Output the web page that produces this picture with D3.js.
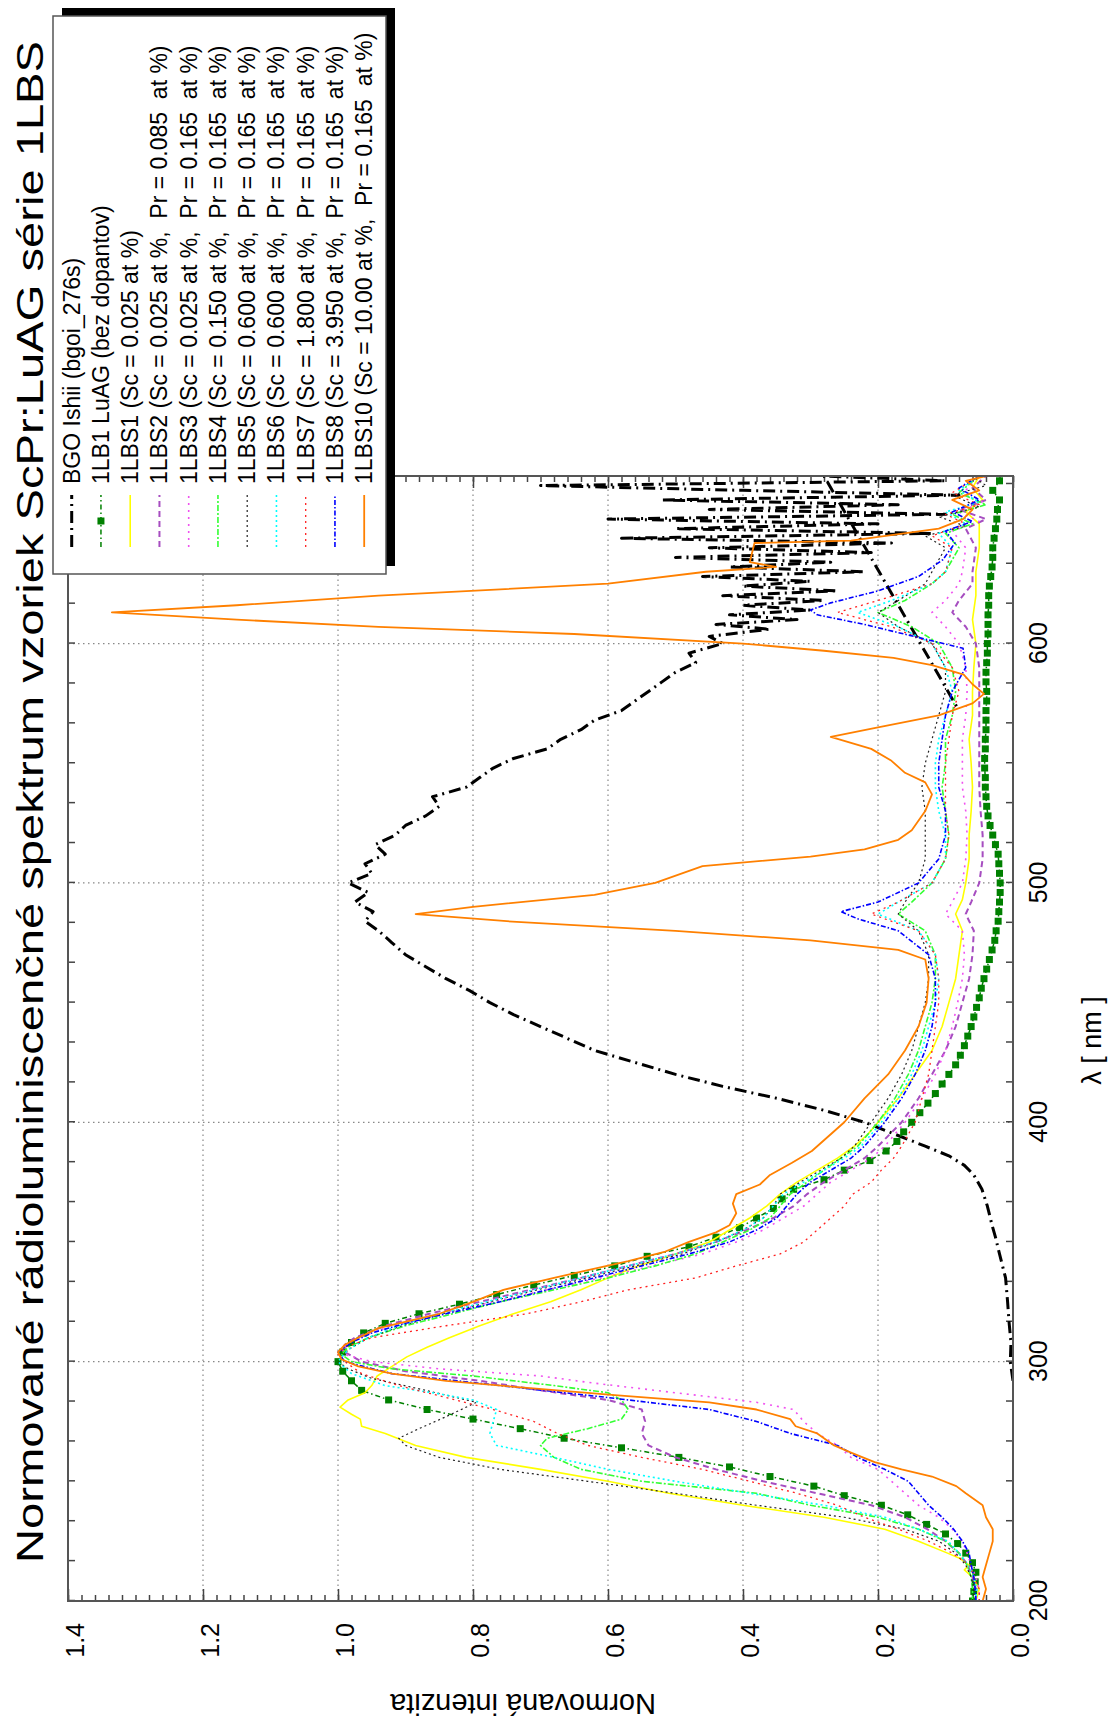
<!DOCTYPE html>
<html><head><meta charset="utf-8">
<script src="https://cdn.jsdelivr.net/npm/d3@7"></script>
<style>
body{margin:0;background:#fff}
svg{display:block}
text{font-family:"Liberation Sans",Arial,sans-serif;fill:#000}
</style>
</head><body>
<svg id="c" width="1110" height="1720"></svg>
<script>
// ---------------- DATA ----------------
const titleText = "Normované rádioluminiscenčné spektrum vzoriek ScPr:LuAG série 1LBS";
const xLabel = "λ [ nm ]";
const yLabel = "Normovaná intenzita";
const wavelengthTickLabels = [200, 300, 400, 500, 600];
const valueTickLabels = [0.0, 0.2, 0.4, 0.6, 0.8, 1.0, 1.2, 1.4];
const seriesNames = [
  "BGO Ishii (bgoi_276s)",
  "1LB1 LuAG (bez dopantov)",
  "1LBS1 (Sc = 0.025 at %)",
  "1LBS2 (Sc = 0.025 at %,  Pr = 0.085  at %)",
  "1LBS3 (Sc = 0.025 at %,  Pr = 0.165  at %)",
  "1LBS4 (Sc = 0.150 at %,  Pr = 0.165  at %)",
  "1LBS5 (Sc = 0.600 at %,  Pr = 0.165  at %)",
  "1LBS6 (Sc = 0.600 at %,  Pr = 0.165  at %)",
  "1LBS7 (Sc = 1.800 at %,  Pr = 0.165  at %)",
  "1LBS8 (Sc = 3.950 at %,  Pr = 0.165  at %)",
  "1LBS10 (Sc = 10.00 at %,  Pr = 0.165  at %)"
];

const bgo = [[292,0.0],[300,0.004],[308,0.003],[317,0.006],[325,0.008],[335,0.011],[345,0.02],[352,0.026],[357,0.031],[365,0.038],[372,0.046],[378,0.058],[382,0.072],[386,0.095],[390,0.13],[395,0.175],[400,0.22],[405,0.28],[410,0.35],[415,0.43],[420,0.5],[425,0.56],[430,0.62],[435,0.66],[440,0.7],[445,0.74],[450,0.775],[455,0.805],[460,0.84],[465,0.87],[470,0.9],[475,0.92],[480,0.94],[484,0.96],[488,0.948],[492,0.975],[496,0.955],[500,0.985],[504,0.95],[508,0.96],[512,0.93],[516,0.945],[520,0.915],[524,0.9],[528,0.87],[532,0.85],[536,0.86],[540,0.81],[544,0.79],[548,0.77],[552,0.74],[556,0.69],[560,0.67],[564,0.64],[568,0.62],[572,0.58],[576,0.56],[580,0.54],[584,0.52],[588,0.5],[592,0.47],[596,0.48],[600,0.43],[603,0.45],[606,0.36],[608,0.44],[610,0.32],[612,0.42],[614,0.3],[616,0.4],[618,0.28],[620,0.43],[622,0.26],[624,0.4],[626,0.3],[628,0.46],[630,0.22],[632,0.42],[634,0.27],[636,0.5],[638,0.21],[640,0.45],[642,0.18],[644,0.58],[646,0.12],[648,0.5],[650,0.2],[652,0.6],[654,0.1],[656,0.45],[658,0.17],[660,0.52],[662,0.08],[664,0.4],[666,0.7],[668,0.1],[670,0.28],[572,0.08]];

const lb1 = [[200,0.06],[204,0.058],[208,0.056],[212,0.055],[216,0.06],[220,0.07],[224,0.082],[228,0.1],[232,0.128],[236,0.156],[240,0.195],[244,0.25],[248,0.295],[252,0.36],[256,0.42],[260,0.495],[264,0.58],[268,0.665],[272,0.73],[276,0.8],[280,0.868],[284,0.925],[288,0.965],[292,0.98],[296,0.993],[300,1.0],[304,0.993],[308,0.98],[312,0.962],[316,0.93],[320,0.88],[324,0.82],[328,0.765],[332,0.71],[336,0.65],[340,0.59],[344,0.542],[348,0.48],[352,0.44],[356,0.405],[360,0.38],[364,0.355],[368,0.342],[372,0.325],[376,0.28],[380,0.25],[384,0.212],[388,0.188],[392,0.172],[396,0.162],[400,0.15],[404,0.138],[408,0.126],[412,0.115],[416,0.105],[420,0.095],[424,0.085],[428,0.078],[432,0.072],[436,0.067],[440,0.062],[444,0.058],[448,0.054],[452,0.05],[456,0.047],[460,0.043],[464,0.039],[468,0.035],[472,0.031],[476,0.027],[480,0.025],[484,0.022],[488,0.021],[492,0.02],[496,0.019],[500,0.019],[504,0.02],[508,0.021],[512,0.022],[516,0.026],[520,0.03],[524,0.034],[528,0.037],[532,0.039],[536,0.04],[540,0.041],[544,0.041],[548,0.042],[552,0.042],[556,0.041],[560,0.041],[564,0.04],[568,0.04],[572,0.04],[576,0.039],[580,0.039],[584,0.04],[588,0.04],[592,0.039],[596,0.038],[600,0.038],[604,0.037],[608,0.037],[612,0.037],[616,0.036],[620,0.036],[624,0.035],[628,0.033],[632,0.031],[636,0.03],[640,0.03],[644,0.028],[648,0.026],[652,0.024],[656,0.023],[660,0.02],[664,0.03],[668,0.02]];

const lbs1 = [[200,0.055],[205,0.05],[210,0.06],[213,0.072],[215,0.065],[218,0.08],[220,0.097],[225,0.14],[230,0.19],[235,0.28],[240,0.4],[245,0.51],[250,0.6],[255,0.7],[260,0.81],[265,0.885],[270,0.93],[273,0.965],[276,0.967],[278,0.98],[281,0.997],[284,0.985],[287,0.96],[290,0.95],[294,0.942],[298,0.92],[302,0.898],[306,0.868],[310,0.835],[315,0.79],[320,0.74],[325,0.685],[330,0.64],[335,0.6],[340,0.555],[345,0.5],[350,0.45],[355,0.42],[360,0.39],[365,0.365],[370,0.345],[375,0.32],[380,0.29],[385,0.26],[390,0.235],[395,0.215],[400,0.2],[410,0.17],[420,0.145],[430,0.12],[440,0.105],[450,0.095],[460,0.085],[470,0.08],[480,0.075],[487,0.085],[493,0.075],[500,0.07],[510,0.065],[520,0.065],[530,0.062],[540,0.06],[550,0.062],[560,0.065],[570,0.06],[580,0.06],[590,0.058],[600,0.055],[610,0.06],[620,0.055],[630,0.055],[640,0.05],[650,0.05],[655,0.07],[660,0.045],[665,0.06],[670,0.05]];

const lbs2 = [[200,0.055],[205,0.055],[210,0.06],[215,0.067],[220,0.08],[225,0.1],[230,0.127],[235,0.16],[240,0.21],[245,0.29],[250,0.37],[255,0.44],[260,0.5],[265,0.54],[270,0.55],[275,0.545],[280,0.55],[284,0.6],[288,0.7],[292,0.79],[296,0.9],[300,0.965],[304,0.99],[307,0.99],[310,0.975],[315,0.93],[320,0.865],[325,0.79],[330,0.715],[335,0.64],[340,0.57],[345,0.5],[350,0.44],[355,0.395],[360,0.355],[365,0.325],[370,0.305],[375,0.28],[380,0.25],[385,0.22],[390,0.2],[400,0.165],[410,0.14],[420,0.12],[430,0.1],[440,0.085],[450,0.075],[460,0.065],[470,0.06],[480,0.058],[487,0.07],[492,0.062],[500,0.05],[510,0.045],[520,0.045],[530,0.048],[540,0.05],[550,0.05],[560,0.05],[570,0.05],[580,0.05],[590,0.05],[600,0.055],[607,0.07],[613,0.09],[618,0.08],[625,0.06],[630,0.06],[640,0.055],[648,0.07],[652,0.04],[656,0.08],[660,0.04],[665,0.06],[670,0.04]];

const lbs3 = [[200,0.05],[205,0.05],[210,0.055],[215,0.062],[220,0.068],[225,0.075],[230,0.09],[235,0.11],[240,0.14],[245,0.16],[250,0.18],[255,0.2],[260,0.24],[265,0.26],[270,0.29],[275,0.31],[280,0.325],[283,0.38],[287,0.5],[291,0.62],[294,0.7],[297,0.85],[300,0.95],[303,0.99],[306,0.995],[310,0.97],[315,0.92],[320,0.85],[325,0.77],[330,0.69],[335,0.61],[340,0.535],[345,0.46],[350,0.41],[355,0.37],[360,0.34],[365,0.31],[370,0.29],[375,0.27],[380,0.24],[385,0.21],[390,0.19],[400,0.16],[410,0.135],[420,0.115],[430,0.1],[440,0.09],[450,0.082],[460,0.075],[470,0.072],[480,0.075],[487,0.1],[492,0.09],[500,0.075],[510,0.07],[520,0.068],[530,0.07],[540,0.075],[550,0.075],[560,0.075],[570,0.07],[580,0.068],[590,0.07],[600,0.08],[607,0.1],[613,0.12],[618,0.1],[625,0.08],[630,0.075],[640,0.07],[647,0.09],[651,0.05],[655,0.08],[659,0.045],[664,0.07],[670,0.05]];

const lbs4 = [[200,0.06],[205,0.06],[210,0.062],[215,0.068],[220,0.08],[225,0.1],[230,0.14],[235,0.2],[240,0.3],[245,0.38],[250,0.55],[255,0.64],[260,0.68],[265,0.7],[268,0.69],[272,0.63],[276,0.58],[280,0.57],[284,0.58],[287,0.6],[290,0.68],[294,0.8],[297,0.92],[300,0.98],[303,0.995],[306,0.985],[310,0.955],[315,0.9],[320,0.83],[325,0.76],[330,0.68],[335,0.6],[340,0.53],[345,0.47],[350,0.43],[355,0.39],[360,0.36],[365,0.345],[370,0.33],[375,0.305],[380,0.28],[385,0.255],[390,0.23],[400,0.2],[410,0.175],[420,0.155],[430,0.14],[440,0.13],[450,0.12],[460,0.115],[470,0.115],[480,0.13],[487,0.17],[492,0.15],[500,0.12],[510,0.1],[520,0.095],[530,0.1],[540,0.105],[550,0.1],[560,0.1],[570,0.09],[580,0.085],[590,0.09],[600,0.11],[607,0.15],[613,0.2],[618,0.16],[625,0.12],[630,0.1],[640,0.08],[646,0.1],[650,0.06],[654,0.09],[658,0.04],[663,0.08],[670,0.05]];

const lbs5 = [[200,0.06],[205,0.058],[210,0.062],[215,0.07],[220,0.085],[225,0.11],[230,0.16],[235,0.25],[240,0.38],[245,0.5],[250,0.63],[255,0.76],[260,0.85],[265,0.9],[268,0.91],[272,0.88],[277,0.84],[283,0.795],[288,0.87],[293,0.95],[297,0.985],[300,1.0],[305,0.985],[310,0.955],[315,0.905],[320,0.845],[325,0.775],[330,0.705],[335,0.63],[340,0.56],[345,0.49],[350,0.44],[355,0.4],[360,0.37],[365,0.355],[370,0.345],[375,0.315],[380,0.285],[385,0.255],[390,0.235],[400,0.21],[410,0.185],[420,0.165],[430,0.15],[440,0.14],[450,0.13],[460,0.125],[470,0.125],[480,0.14],[487,0.17],[492,0.16],[500,0.14],[510,0.13],[520,0.13],[530,0.13],[540,0.135],[550,0.13],[560,0.12],[570,0.11],[580,0.1],[590,0.1],[600,0.12],[607,0.17],[613,0.2],[618,0.17],[625,0.13],[630,0.12],[640,0.1],[645,0.13],[649,0.07],[653,0.11],[657,0.05],[662,0.09],[666,0.04],[670,0.06]];

const lbs6 = [[200,0.055],[205,0.054],[210,0.058],[215,0.066],[220,0.08],[225,0.096],[230,0.14],[235,0.19],[240,0.28],[245,0.39],[250,0.5],[255,0.6],[260,0.68],[265,0.765],[270,0.775],[275,0.77],[280,0.765],[284,0.8],[287,0.86],[290,0.93],[295,0.98],[300,1.0],[305,0.985],[310,0.955],[315,0.91],[320,0.85],[325,0.78],[330,0.71],[335,0.64],[340,0.57],[345,0.5],[350,0.44],[355,0.4],[360,0.37],[365,0.355],[370,0.34],[375,0.31],[380,0.28],[385,0.25],[390,0.225],[400,0.195],[410,0.17],[420,0.15],[430,0.135],[440,0.125],[450,0.115],[460,0.11],[470,0.115],[480,0.14],[487,0.2],[492,0.17],[500,0.12],[510,0.1],[520,0.1],[530,0.11],[540,0.115],[550,0.115],[560,0.11],[570,0.1],[580,0.09],[590,0.1],[600,0.12],[607,0.17],[613,0.23],[618,0.18],[625,0.12],[630,0.1],[640,0.09],[646,0.11],[650,0.07],[655,0.1],[659,0.05],[664,0.08],[670,0.05]];

const lbs7 = [[200,0.05],[205,0.05],[210,0.058],[215,0.064],[220,0.09],[225,0.125],[230,0.17],[235,0.22],[240,0.26],[245,0.32],[250,0.39],[255,0.46],[260,0.55],[265,0.63],[270,0.675],[275,0.71],[280,0.77],[285,0.84],[290,0.91],[295,0.965],[300,0.99],[303,1.0],[306,0.99],[310,0.95],[315,0.84],[320,0.72],[325,0.64],[330,0.57],[335,0.47],[340,0.41],[345,0.345],[350,0.31],[355,0.29],[360,0.27],[365,0.25],[370,0.237],[375,0.21],[380,0.195],[385,0.177],[390,0.165],[400,0.145],[410,0.135],[420,0.125],[430,0.12],[440,0.115],[450,0.11],[460,0.11],[470,0.115],[480,0.14],[487,0.21],[492,0.17],[500,0.12],[510,0.1],[520,0.095],[530,0.1],[540,0.1],[550,0.1],[560,0.095],[570,0.09],[580,0.08],[590,0.09],[600,0.12],[607,0.18],[613,0.26],[618,0.2],[625,0.12],[630,0.1],[640,0.09],[645,0.12],[650,0.07],[654,0.1],[658,0.05],[663,0.09],[670,0.05]];

const lbs8 = [[200,0.055],[205,0.056],[210,0.058],[215,0.062],[220,0.065],[225,0.075],[230,0.088],[235,0.105],[240,0.125],[245,0.14],[250,0.155],[255,0.19],[260,0.23],[265,0.26],[270,0.33],[275,0.38],[280,0.45],[285,0.6],[290,0.76],[295,0.92],[300,0.99],[304,1.0],[308,0.98],[312,0.95],[316,0.9],[320,0.84],[325,0.76],[330,0.69],[335,0.62],[340,0.55],[345,0.48],[350,0.42],[355,0.38],[360,0.35],[365,0.335],[370,0.32],[375,0.3],[380,0.27],[385,0.24],[390,0.22],[400,0.19],[410,0.165],[420,0.145],[430,0.13],[440,0.12],[450,0.115],[460,0.115],[470,0.125],[480,0.17],[485,0.23],[488,0.255],[492,0.2],[500,0.14],[510,0.11],[520,0.1],[530,0.1],[540,0.11],[550,0.11],[560,0.105],[570,0.1],[580,0.09],[590,0.07],[598,0.074],[603,0.147],[608,0.22],[612,0.29],[614,0.3],[617,0.27],[622,0.2],[628,0.14],[635,0.104],[642,0.086],[647,0.1],[651,0.06],[655,0.09],[660,0.05],[665,0.08],[670,0.05]];

const lbs10 = [[200,0.045],[205,0.04],[210,0.045],[215,0.04],[220,0.035],[225,0.03],[230,0.03],[235,0.04],[240,0.045],[245,0.07],[248,0.084],[252,0.12],[255,0.165],[258,0.205],[262,0.24],[265,0.265],[270,0.29],[273,0.322],[276,0.33],[280,0.38],[283,0.45],[286,0.59],[289,0.72],[292,0.84],[295,0.92],[298,0.97],[301,0.995],[304,1.0],[307,0.99],[310,0.97],[314,0.94],[320,0.85],[325,0.8],[330,0.755],[335,0.68],[338,0.633],[342,0.57],[346,0.515],[350,0.48],[354,0.44],[357,0.42],[362,0.41],[366,0.415],[370,0.41],[374,0.375],[378,0.36],[383,0.328],[388,0.298],[395,0.27],[400,0.25],[410,0.22],[420,0.185],[430,0.16],[440,0.14],[450,0.128],[460,0.125],[468,0.13],[472,0.17],[476,0.3],[480,0.5],[484,0.75],[487,0.885],[490,0.8],[495,0.62],[500,0.53],[507,0.46],[511,0.3],[514,0.22],[518,0.17],[522,0.15],[530,0.13],[537,0.12],[542,0.13],[546,0.16],[551,0.18],[556,0.21],[561,0.27],[565,0.2],[570,0.11],[575,0.06],[579,0.043],[583,0.06],[587,0.073],[591,0.12],[594,0.177],[597,0.28],[600,0.4],[604,0.65],[607,0.94],[610,1.15],[613,1.335],[616,1.15],[620,0.94],[625,0.6],[630,0.455],[632,0.351],[634,0.39],[642,0.383],[643,0.24],[648,0.11],[652,0.074],[656,0.06],[660,0.09],[664,0.05],[668,0.07],[670,0.04]];

const seriesData = [bgo, lb1, lbs1, lbs2, lbs3, lbs4, lbs5, lbs6, lbs7, lbs8, lbs10];

// ---------------- STYLES ----------------
const styles = [
  {color:"#000000", width:3,   dash:"12,5,2,5"},
  {color:"#008000", width:1.5, dash:"5,3,1.5,3", marker:true},
  {color:"#ffff00", width:1.6, dash:null},
  {color:"#a64dc0", width:2,   dash:"6,4"},
  {color:"#f050f0", width:1.6, dash:"2,5"},
  {color:"#33ff33", width:1.6, dash:"6,2,2,2"},
  {color:"#222222", width:1.2, dash:"2,3"},
  {color:"#00ffff", width:1.6, dash:"2,3"},
  {color:"#ff2020", width:1.3, dash:"2,4"},
  {color:"#0000ff", width:1.6, dash:"5,2,1.5,2"},
  {color:"#ff8000", width:1.8, dash:null}
];

// ---------------- LAYOUT (unrotated frame 1720 x 1110) ----------------
const svg = d3.select("#c");
const root = svg.append("g").attr("transform","translate(0,1720) rotate(-90)");
const P = {left:119, right:1244, top:68, bottom:1013};
const x = d3.scaleLinear().domain([200,670]).range([P.left,P.right]);
const y = d3.scaleLinear().domain([0,1.4]).range([P.bottom,P.top]);

root.append("defs").append("clipPath").attr("id","clip")
  .append("rect").attr("x",P.left).attr("y",P.top)
  .attr("width",P.right-P.left).attr("height",P.bottom-P.top);

// grid
const grid = root.append("g").attr("stroke","#888").attr("stroke-width",1.2).attr("stroke-dasharray","1.5,3.5");
[0.2,0.4,0.6,0.8,1.0,1.2].forEach(v=>{
  grid.append("line").attr("x1",P.left).attr("x2",P.right).attr("y1",y(v)).attr("y2",y(v));
});
[300,400,500,600].forEach(w=>{
  grid.append("line").attr("x1",x(w)).attr("x2",x(w)).attr("y1",P.top).attr("y2",P.bottom);
});

// ticks via d3 axes (inward)
const minorW = d3.range(0,29).map(i=>200+i*100/6).filter(w=>w<=670);
const minorV = d3.range(0,71).map(i=>i*0.02);
function styleAxis(g){ g.select(".domain").remove(); g.selectAll(".tick line").attr("stroke","#444").attr("stroke-width",1.5); g.selectAll(".tick text").remove(); }
root.append("g").attr("transform",`translate(0,${P.bottom})`).call(d3.axisBottom(x).tickValues(minorW).tickSize(-7)).call(styleAxis);
root.append("g").attr("transform",`translate(0,${P.top})`).call(d3.axisTop(x).tickValues(minorW).tickSize(-7)).call(styleAxis);
root.append("g").attr("transform",`translate(${P.left},0)`).call(d3.axisLeft(y).tickValues(minorV).tickSize(-6)).call(styleAxis);
root.append("g").attr("transform",`translate(${P.right},0)`).call(d3.axisRight(y).tickValues(minorV).tickSize(-6)).call(styleAxis);
root.append("g").attr("transform",`translate(${P.left},0)`).call(d3.axisLeft(y).tickValues(valueTickLabels).tickSize(-12)).call(styleAxis);
root.append("g").attr("transform",`translate(${P.right},0)`).call(d3.axisRight(y).tickValues(valueTickLabels).tickSize(-12)).call(styleAxis);

// tick labels
const xl = root.append("g").attr("transform",`translate(0,${P.bottom})`)
  .call(d3.axisBottom(x).tickValues(wavelengthTickLabels).tickSize(0).tickPadding(16).tickFormat(d3.format("d")));
xl.select(".domain").remove();
xl.selectAll("text").attr("font-size",25).attr("font-family","Liberation Sans, Arial, sans-serif").attr("fill","#000");
const yl = root.append("g").attr("transform",`translate(${P.left},0)`)
  .call(d3.axisLeft(y).tickValues(valueTickLabels).tickSize(0).tickPadding(22).tickFormat(d3.format(".1f")));
yl.select(".domain").remove();
yl.selectAll("text").attr("font-size",25).attr("dy","0.62em").attr("font-family","Liberation Sans, Arial, sans-serif").attr("fill","#000");

// data
const line = d3.line().x(d=>x(d[0])).y(d=>y(d[1]));
const plot = root.append("g").attr("clip-path","url(#clip)");
seriesData.forEach((data,i)=>{
  const s = styles[i];
  plot.append("path").datum(data).attr("d",line).attr("fill","none")
    .attr("stroke",s.color).attr("stroke-width",s.width)
    .attr("stroke-dasharray",s.dash).attr("stroke-linejoin","round");
  if(s.marker){
    plot.append("g").selectAll("rect").data(data).join("rect")
      .attr("x",d=>x(d[0])-3.5).attr("y",d=>y(d[1])-3.5).attr("width",7).attr("height",7)
      .attr("fill",s.color);
  }
});

// frame
root.append("rect").attr("x",P.left).attr("y",P.top).attr("width",P.right-P.left).attr("height",P.bottom-P.top)
  .attr("fill","none").attr("stroke","#555").attr("stroke-width",2);

// axis titles
root.append("text").attr("x",(P.left+P.right)/2-2).attr("y",1101).attr("text-anchor","middle")
  .attr("font-size",27).text(xLabel);
root.append("text").attr("transform","translate(26,523) rotate(-90)").attr("text-anchor","middle")
  .attr("font-size",29).text(yLabel);
root.append("text").attr("x",157).attr("y",43).attr("font-size",37)
  .attr("textLength",1522).attr("lengthAdjust","spacingAndGlyphs").text(titleText);

// legend
const L = {x:1146, y:53, w:558, h:333};
root.append("rect").attr("x",L.x+8).attr("y",L.y+9).attr("width",L.w).attr("height",L.h).attr("fill","#000");
root.append("rect").attr("x",L.x).attr("y",L.y).attr("width",L.w).attr("height",L.h)
  .attr("fill","#fff").attr("stroke","#555").attr("stroke-width",1.5);
seriesNames.forEach((name,i)=>{
  const ry = 71.7 + i*29.25;
  const s = styles[i];
  root.append("line").attr("x1",1173).attr("x2",1225).attr("y1",ry).attr("y2",ry)
    .attr("stroke",s.color).attr("stroke-width",s.width).attr("stroke-dasharray",s.dash);
  if(s.marker){
    root.append("rect").attr("x",1195.5).attr("y",ry-3.5).attr("width",7).attr("height",7).attr("fill",s.color);
  }
  root.append("text").attr("x",1236).attr("y",ry+8).attr("font-size",23)
    .style("white-space","pre").text(name);
});
</script>
</body></html>
